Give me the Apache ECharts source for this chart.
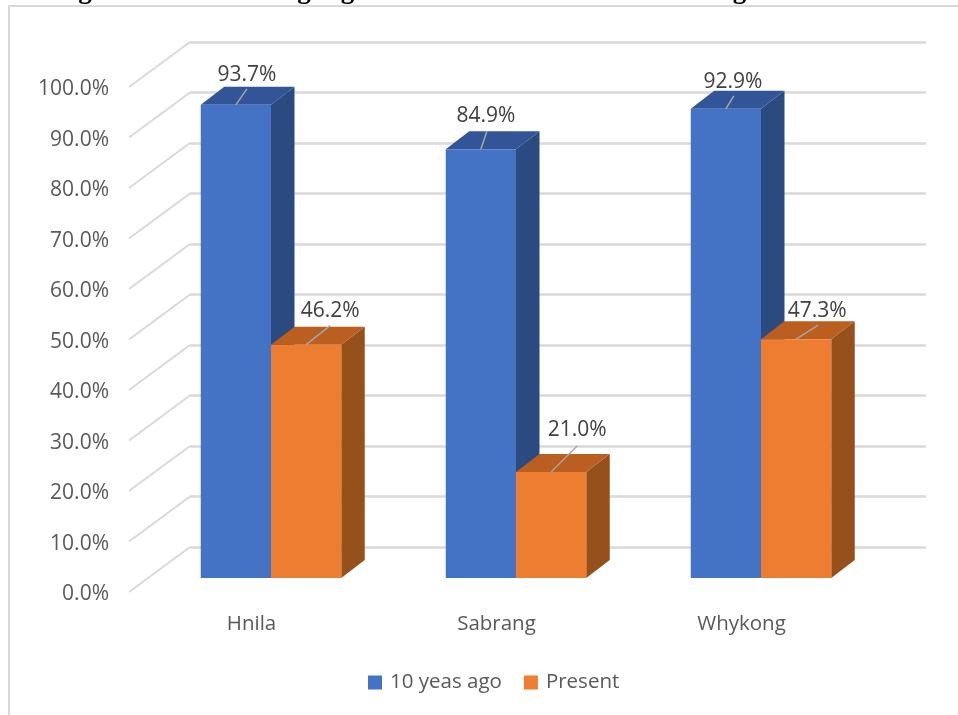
<!DOCTYPE html>
<html>
<head>
<meta charset="utf-8">
<style>html,body{margin:0;padding:0;background:#fff}#chart{width:958px;height:715px}</style>
<script src="https://cdn.jsdelivr.net/npm/echarts@6/dist/echarts.min.js"></script>
</head>
<body>
<div id="chart"></div>
<script>
// Share of respondents per village, then and now
const categories = ['Hnila', 'Sabrang', 'Whykong'];
const tenYearsAgo = [93.7, 84.9, 92.9];
const present = [46.2, 21.0, 47.3];
const yTicks = [0, 10, 20, 30, 40, 50, 60, 70, 80, 90, 100];
const seriesNames = ['10 yeas ago', 'Present'];

// Pixel offsets of the pseudo-3D construction
const wallShift = [61, -45];      // front of floor to back wall
const planeShift = [19.5, -14];   // front of floor to the front face of the bars
const barDepth = [23.5, -18];
const barWidth = 70.25;
const bandShift = [-35.125, 35.125];

// Data label anchors relative to the bar's top front centre: [label dx, label dy, leader start dx, leader end dx, leader end dy]
const labelOffsetsBlue = [[11, -31, 0, 11, -16], [5, -35, 0, 6, -18], [7, -28, 0, 8, -13]];
const labelOffsetsOrange = [[24, -35, 0, 24, -19], [26, -43, 0, 26, -26], [21, -30, 0, 22, -14]];

// Descenders of the caption that runs off the top edge
const captionGlyphX = [85, 304, 347.5, 739.5];

const palette = {
  blue: { front: '#4472C4', top: '#315597', side: '#2A4A80' },
  orange: { front: '#ED7D31', top: '#BA5F20', side: '#95501C' }
};
const fontFamily = '"Open Sans", "Noto Sans", sans-serif';

function poly(points, fill) {
  return { type: 'polygon', shape: { points }, style: { fill }, silent: true };
}

function barRenderer(colors, seriesIndex, offsets) {
  return function (params, api) {
    const i = api.value(0);
    const val = api.value(1);
    const center = api.coord([i, val]);
    const base = api.coord([i, 0]);
    const x0 = center[0] + planeShift[0] + bandShift[seriesIndex] - barWidth / 2;
    const x1 = x0 + barWidth;
    const yt = center[1] + planeShift[1];
    const yb = base[1] + planeShift[1];
    const dx = barDepth[0], dy = barDepth[1];
    const mid = (x0 + x1) / 2;
    const o = offsets[i];
    return {
      type: 'group',
      children: [
        poly([[x1, yt], [x1 + dx, yt + dy], [x1 + dx, yb + dy], [x1, yb]], colors.side),
        poly([[x0, yt], [x0 + dx, yt + dy], [x1 + dx, yt + dy], [x1, yt]], colors.top),
        poly([[x0, yt], [x1, yt], [x1, yb], [x0, yb]], colors.front),
        {
          type: 'line',
          shape: { x1: mid + o[2], y1: yt, x2: mid + o[3], y2: yt + o[4] },
          style: { stroke: '#A6A6A6', lineWidth: 1.5 },
          silent: true
        },
        {
          type: 'text',
          style: {
            x: mid + o[0], y: yt + o[1] + 1.5,
            text: val.toFixed(1) + '%',
            fill: '#404040',
            font: '21px ' + fontFamily,
            align: 'center',
            verticalAlign: 'middle'
          },
          silent: true
        }
      ]
    };
  };
}

// Diagonal floor-to-wall segment at each tick
function diagonalRenderer(params, api) {
  const p = api.coord([0, api.value(0)]);
  const x = params.coordSys.x;
  return {
    type: 'line',
    shape: { x1: x, y1: p[1], x2: x + wallShift[0], y2: p[1] + wallShift[1] },
    style: { stroke: '#D9D9D9', lineWidth: 2 },
    silent: true
  };
}

const chart = echarts.init(document.getElementById('chart'), null, { renderer: 'canvas' });
chart.setOption({
  animation: false,
  backgroundColor: '#fff',
  textStyle: { fontFamily },
  graphic: [
    // Chart frame; the lower edge runs past the visible area
    { type: 'rect', shape: { x: 9, y: 6, width: 1000, height: 800 }, style: { fill: 'none', stroke: '#D9D9D9', lineWidth: 2 }, silent: true, z: -1 }
  ].concat(captionGlyphX.map(x => ({
    type: 'text', x, y: 5,
    style: { text: 'g', fill: '#000', font: 'bold 27px "Liberation Serif", serif', align: 'center', verticalAlign: 'bottom' },
    silent: true
  }))),
  grid: [
    { left: 129, top: 87, width: 735, height: 505 },  // front of the floor
    { left: 190, top: 42, width: 736, height: 505 },  // back wall
    { left: 129, top: 89.5, width: 735, height: 505 } // carries the value labels
  ],
  xAxis: [
    {
      gridIndex: 0, type: 'category', data: categories,
      axisLine: { show: false }, axisTick: { show: false },
      axisLabel: { color: '#595959', fontSize: 20.5, margin: 22, fontFamily }
    },
    { gridIndex: 1, type: 'category', data: categories, show: false },
    { gridIndex: 2, type: 'category', data: categories, show: false }
  ],
  yAxis: [
    {
      gridIndex: 0, type: 'value', min: 0, max: 100, interval: 10,
      axisLine: { show: false }, axisTick: { show: false }, splitLine: { show: false }, axisLabel: { show: false }
    },
    {
      gridIndex: 1, type: 'value', min: 0, max: 100, interval: 10,
      axisLine: { show: false }, axisTick: { show: false }, axisLabel: { show: false },
      splitLine: { show: true, lineStyle: { color: '#D9D9D9', width: 2.5 } }
    },
    {
      gridIndex: 2, type: 'value', min: 0, max: 100, interval: 10,
      axisLine: { show: false }, axisTick: { show: false }, splitLine: { show: false },
      axisLabel: { color: '#595959', fontSize: 21, margin: 20, fontFamily, formatter: v => v.toFixed(1) + '%' }
    }
  ],
  legend: {
    left: 363, top: 667, itemWidth: 14, itemHeight: 14, itemGap: 22, icon: 'rect',
    data: seriesNames,
    textStyle: { color: '#595959', fontSize: 20.5, fontFamily, padding: [0, 0, 0, 3] }
  },
  series: [
    {
      type: 'custom', xAxisIndex: 0, yAxisIndex: 0, silent: true, z: 1,
      renderItem: diagonalRenderer,
      data: yTicks.map(v => [v]), encode: { y: 0 }
    },
    {
      name: seriesNames[0], type: 'custom', xAxisIndex: 0, yAxisIndex: 0, z: 2,
      itemStyle: { color: palette.blue.front },
      renderItem: barRenderer(palette.blue, 0, labelOffsetsBlue),
      data: tenYearsAgo.map((v, i) => [i, v]), encode: { x: 0, y: 1 }
    },
    {
      name: seriesNames[1], type: 'custom', xAxisIndex: 0, yAxisIndex: 0, z: 3,
      itemStyle: { color: palette.orange.front },
      renderItem: barRenderer(palette.orange, 1, labelOffsetsOrange),
      data: present.map((v, i) => [i, v]), encode: { x: 0, y: 1 }
    }
  ]
});
</script>
</body>
</html>
